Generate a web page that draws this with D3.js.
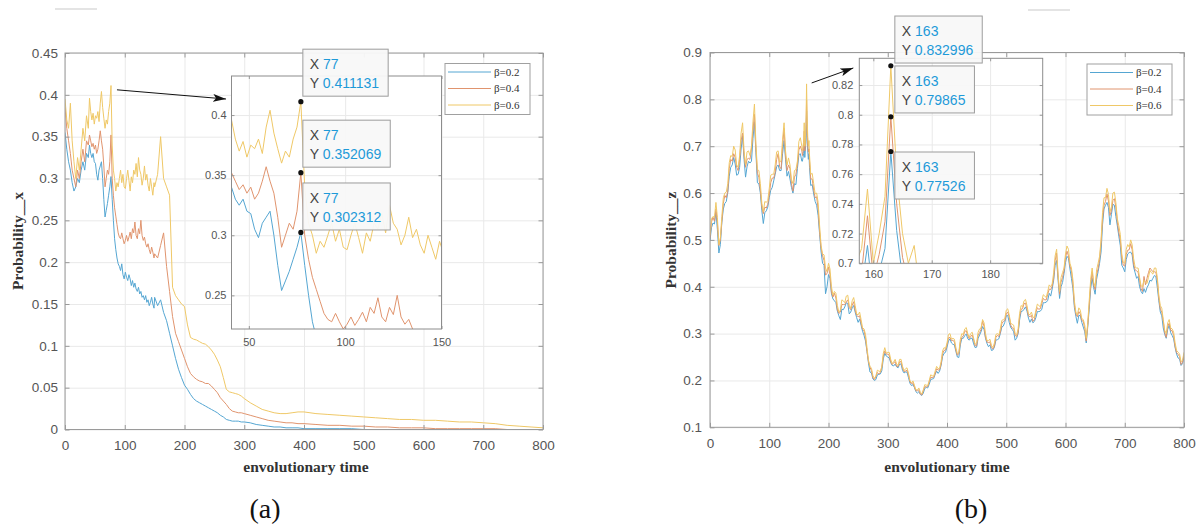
<!DOCTYPE html>
<html>
<head>
<meta charset="utf-8">
<title>Evolution of probabilities x and z</title>
<script src="https://cdn.jsdelivr.net/npm/d3@7/dist/d3.min.js"></script>
<style>
  html, body { margin: 0; padding: 0; background: #ffffff; }
  svg { display: block; }
</style>
</head>
<body>
<svg id="fig" width="1204" height="528"></svg>
<script>
// ---------------- data ----------------
// sampling instants (denser where the insets magnify the curves)
const timeX = [].concat(d3.range(0, 40, 3), d3.range(41, 150, 2), d3.range(150, 301, 5),
                        d3.range(310, 401, 10), d3.range(420, 801, 20));
const timeZ = [].concat(d3.range(0, 156, 5), d3.range(156, 171, 1), d3.range(175, 801, 5));
// in-between instants of the z record (fine fluctuations)
const timeZMid = [].concat(d3.range(2.5, 155, 5), d3.range(172.5, 800, 5));

const seriesNames = ["β=0.2", "β=0.4", "β=0.6"];

// probability x for each beta
const xBeta02 = [
  0.355, 0.335, 0.32, 0.31, 0.295, 0.285, 0.29, 0.30, 0.295, 0.31, 0.32, 0.31, 0.33, 0.325,
  0.34, 0.33, 0.325, 0.33, 0.32, 0.318, 0.305, 0.298, 0.31, 0.315, 0.32, 0.30, 0.275, 0.254, 0.262, 0.27, 0.28, 0.29, 0.302312,
  0.275, 0.25, 0.228, 0.215, 0.205, 0.198, 0.195, 0.19, 0.198, 0.185,
  0.18, 0.188, 0.182, 0.178, 0.185, 0.18, 0.172, 0.178, 0.17, 0.175,
  0.168, 0.165, 0.17, 0.162, 0.165, 0.158, 0.16, 0.155, 0.16, 0.152,
  0.155, 0.148, 0.152, 0.158, 0.15, 0.145,
  0.158, 0.148, 0.155, 0.14, 0.13, 0.115, 0.1, 0.085, 0.072, 0.062, 0.053,
  0.048, 0.042, 0.037, 0.034, 0.032, 0.03, 0.028, 0.026, 0.024, 0.022,
  0.02, 0.017, 0.015, 0.012, 0.011, 0.01, 0.01, 0.01, 0.009, 0.009,
  0.008, 0.006, 0.005, 0.004, 0.003, 0.003, 0.002, 0.002, 0.002, 0.001,
  0.001, 0.001, 0.001, 0.001, 0, 0, 0, 0, 0, 0, 0, 0, 0, 0, 0, 0, 0, 0, 0, 0
];
const xBeta04 = [
  0.385, 0.36, 0.345, 0.33, 0.31, 0.30, 0.29, 0.31, 0.30, 0.32, 0.335, 0.32, 0.345, 0.34,
  0.352, 0.345, 0.338, 0.342, 0.335, 0.34, 0.33, 0.335, 0.345, 0.357, 0.345, 0.335, 0.315, 0.29, 0.30, 0.31, 0.305, 0.32, 0.352069,
  0.30, 0.28, 0.265, 0.255, 0.245, 0.235, 0.23, 0.228, 0.235, 0.228,
  0.222, 0.226, 0.232, 0.225, 0.23, 0.236, 0.228, 0.24, 0.235, 0.248,
  0.232, 0.228, 0.24, 0.234, 0.25, 0.232, 0.226, 0.23, 0.222, 0.218,
  0.222, 0.215, 0.21, 0.218, 0.212, 0.205,
  0.21, 0.205, 0.22, 0.235, 0.195, 0.165, 0.135, 0.115, 0.105, 0.095, 0.085,
  0.075, 0.067, 0.063, 0.06, 0.058, 0.057, 0.055, 0.055, 0.052, 0.048,
  0.044, 0.038, 0.034, 0.03, 0.025, 0.022, 0.021, 0.02, 0.02, 0.019,
  0.017, 0.015, 0.013, 0.011, 0.01, 0.009, 0.008, 0.008, 0.007, 0.007,
  0.006, 0.005, 0.005, 0.004, 0.004, 0.003, 0.003, 0.002, 0.002, 0.002,
  0.001, 0.001, 0.001, 0.001, 0.001, 0.001, 0, 0, 0, 0
];
const xBeta06 = [
  0.395, 0.37, 0.36, 0.39, 0.345, 0.32, 0.30, 0.325, 0.31, 0.335, 0.36, 0.345, 0.375, 0.36,
  0.396, 0.38, 0.37, 0.378, 0.365, 0.375, 0.372, 0.38, 0.368, 0.39, 0.404, 0.385, 0.372, 0.36, 0.37, 0.365, 0.38, 0.39, 0.411131,
  0.34, 0.31, 0.30, 0.285, 0.295, 0.29, 0.30, 0.31, 0.295, 0.305,
  0.29, 0.288, 0.30, 0.31, 0.298, 0.285, 0.302, 0.295, 0.31, 0.305,
  0.318, 0.302, 0.325, 0.31, 0.305, 0.292, 0.30, 0.315, 0.298, 0.305,
  0.292, 0.285, 0.30, 0.29, 0.28, 0.295,
  0.29, 0.305, 0.35, 0.30, 0.29, 0.28, 0.17, 0.16, 0.155, 0.15, 0.147,
  0.125, 0.11, 0.108, 0.107, 0.105, 0.103, 0.102, 0.099, 0.095, 0.09,
  0.083, 0.075, 0.062, 0.048, 0.045, 0.044, 0.043, 0.042, 0.04, 0.037,
  0.032, 0.028, 0.024, 0.022, 0.02, 0.019, 0.019, 0.02, 0.021, 0.021,
  0.019, 0.018, 0.017, 0.016, 0.015, 0.014, 0.013, 0.012, 0.012, 0.011,
  0.011, 0.010, 0.009, 0.009, 0.008, 0.007, 0.005, 0.004, 0.003, 0.002
];

// probability z for each beta
const zBeta02 = [
  0.498, 0.536, 0.560, 0.472, 0.538, 0.578, 0.601, 0.655, 0.676, 0.638,
  0.655, 0.722, 0.634, 0.668, 0.668, 0.752, 0.622, 0.600, 0.535, 0.562,
  0.590, 0.612, 0.640, 0.660, 0.648, 0.712, 0.636, 0.630, 0.600, 0.618,
  0.682, 0.668,
  0.668, 0.676, 0.684, 0.712, 0.676, 0.694, 0.710, 0.77526, 0.722, 0.690, 0.672, 0.684, 0.654, 0.636, 0.616,
  0.598, 0.574, 0.512, 0.450, 0.385, 0.426, 0.385, 0.370, 0.348, 0.330,
  0.351, 0.366, 0.342, 0.355, 0.346, 0.324, 0.318, 0.296, 0.262, 0.218,
  0.203, 0.202, 0.213, 0.221, 0.258, 0.250, 0.238, 0.231, 0.229, 0.235,
  0.221, 0.218, 0.206, 0.189, 0.185, 0.173, 0.170, 0.173, 0.185, 0.192,
  0.203, 0.213, 0.215, 0.232, 0.258, 0.271, 0.289, 0.277, 0.262, 0.249,
  0.290, 0.296, 0.289, 0.290, 0.278, 0.271, 0.297, 0.315, 0.290, 0.272,
  0.264, 0.271, 0.287, 0.300, 0.316, 0.338, 0.324, 0.309, 0.286, 0.300,
  0.347, 0.352, 0.348, 0.324, 0.323, 0.334, 0.347, 0.352, 0.366, 0.371,
  0.380, 0.414, 0.456, 0.375, 0.409, 0.452, 0.461, 0.418, 0.356, 0.322,
  0.338, 0.314, 0.280, 0.352, 0.418, 0.384, 0.432, 0.474, 0.566, 0.580,
  0.532, 0.576, 0.550, 0.508, 0.446, 0.432, 0.470, 0.474, 0.442, 0.418,
  0.400, 0.385, 0.388, 0.404, 0.412, 0.424, 0.398, 0.346, 0.312, 0.290,
  0.318, 0.296, 0.270, 0.248, 0.232, 0.250
];
const zBeta04 = [
  0.503, 0.548, 0.566, 0.488, 0.540, 0.595, 0.604, 0.672, 0.684, 0.655,
  0.672, 0.728, 0.655, 0.674, 0.694, 0.768, 0.642, 0.606, 0.556, 0.568,
  0.596, 0.632, 0.644, 0.684, 0.652, 0.738, 0.648, 0.652, 0.604, 0.640,
  0.692, 0.690,
  0.680, 0.688, 0.694, 0.732, 0.690, 0.706, 0.728, 0.79865, 0.740, 0.704, 0.688, 0.694, 0.668, 0.650, 0.630,
  0.606, 0.592, 0.518, 0.466, 0.425, 0.442, 0.388, 0.386, 0.350, 0.346,
  0.362, 0.368, 0.356, 0.361, 0.350, 0.336, 0.322, 0.306, 0.262, 0.228,
  0.205, 0.208, 0.214, 0.228, 0.263, 0.256, 0.240, 0.238, 0.230, 0.240,
  0.226, 0.220, 0.212, 0.193, 0.186, 0.178, 0.171, 0.178, 0.186, 0.197,
  0.206, 0.214, 0.222, 0.234, 0.264, 0.276, 0.292, 0.286, 0.264, 0.257,
  0.292, 0.305, 0.296, 0.294, 0.286, 0.274, 0.302, 0.326, 0.292, 0.281,
  0.270, 0.273, 0.296, 0.302, 0.326, 0.342, 0.336, 0.312, 0.296, 0.302,
  0.352, 0.364, 0.352, 0.336, 0.326, 0.345, 0.352, 0.364, 0.372, 0.384,
  0.394, 0.418, 0.472, 0.384, 0.420, 0.462, 0.466, 0.434, 0.362, 0.336,
  0.342, 0.326, 0.284, 0.360, 0.432, 0.394, 0.438, 0.492, 0.574, 0.598,
  0.552, 0.584, 0.570, 0.516, 0.462, 0.444, 0.478, 0.492, 0.448, 0.434,
  0.414, 0.390, 0.404, 0.430, 0.436, 0.432, 0.414, 0.352, 0.326, 0.292,
  0.322, 0.306, 0.272, 0.256, 0.234, 0.254
];
const zBeta06 = [
  0.510, 0.550, 0.580, 0.490, 0.550, 0.600, 0.620, 0.680, 0.700, 0.660,
  0.680, 0.750, 0.660, 0.690, 0.700, 0.790, 0.650, 0.620, 0.560, 0.580,
  0.610, 0.640, 0.660, 0.690, 0.670, 0.750, 0.660, 0.660, 0.620, 0.650,
  0.710, 0.700,
  0.690, 0.700, 0.710, 0.750, 0.700, 0.720, 0.745, 0.832996, 0.760, 0.720, 0.700, 0.712, 0.680, 0.660, 0.640,
  0.620, 0.600, 0.530, 0.470, 0.440, 0.450, 0.400, 0.390, 0.360, 0.350,
  0.370, 0.380, 0.360, 0.370, 0.360, 0.340, 0.330, 0.310, 0.270, 0.230,
  0.210, 0.210, 0.220, 0.230, 0.270, 0.260, 0.245, 0.240, 0.235, 0.245,
  0.230, 0.225, 0.215, 0.195, 0.190, 0.180, 0.175, 0.180, 0.190, 0.200,
  0.210, 0.220, 0.225, 0.240, 0.270, 0.280, 0.300, 0.290, 0.270, 0.260,
  0.300, 0.310, 0.300, 0.300, 0.290, 0.280, 0.310, 0.330, 0.300, 0.285,
  0.275, 0.280, 0.300, 0.310, 0.330, 0.350, 0.340, 0.320, 0.300, 0.310,
  0.360, 0.370, 0.360, 0.340, 0.335, 0.350, 0.360, 0.370, 0.380, 0.390,
  0.400, 0.430, 0.480, 0.390, 0.430, 0.470, 0.480, 0.440, 0.370, 0.340,
  0.350, 0.330, 0.290, 0.370, 0.440, 0.400, 0.450, 0.500, 0.590, 0.610,
  0.560, 0.600, 0.580, 0.530, 0.470, 0.450, 0.490, 0.500, 0.460, 0.440,
  0.420, 0.400, 0.410, 0.420, 0.430, 0.440, 0.420, 0.360, 0.330, 0.300,
  0.330, 0.310, 0.280, 0.260, 0.240, 0.260
];

// z values at the in-between instants
const zBeta02Mid = [
  0.526, 0.534, 0.522, 0.490, 0.566, 0.582, 0.636, 0.660, 0.662, 0.640,
  0.694, 0.672, 0.656, 0.664, 0.716, 0.686, 0.620, 0.562, 0.558, 0.570,
  0.606, 0.626, 0.656, 0.648, 0.684, 0.672, 0.646, 0.612, 0.620, 0.652,
  0.684,
  0.618, 0.582, 0.552, 0.474, 0.446, 0.400, 0.418, 0.374, 0.366, 0.338,
  0.352, 0.357, 0.364, 0.346, 0.360, 0.334, 0.331, 0.305, 0.284, 0.237,
  0.216, 0.200, 0.212, 0.214, 0.246, 0.252, 0.248, 0.232, 0.235, 0.227,
  0.235, 0.216, 0.218, 0.194, 0.191, 0.176, 0.176, 0.168, 0.183, 0.184,
  0.202, 0.204, 0.220, 0.220, 0.251, 0.260, 0.284, 0.280, 0.276, 0.250,
  0.276, 0.290, 0.299, 0.286, 0.290, 0.270, 0.290, 0.304, 0.309, 0.279,
  0.276, 0.265, 0.286, 0.289, 0.314, 0.324, 0.339, 0.313, 0.304, 0.290,
  0.329, 0.348, 0.357, 0.333, 0.331, 0.326, 0.347, 0.348, 0.366, 0.367,
  0.386, 0.395, 0.446, 0.414, 0.400, 0.428, 0.465, 0.438, 0.396, 0.337,
  0.339, 0.324, 0.304, 0.314, 0.396, 0.398, 0.416, 0.450, 0.532, 0.574,
  0.569, 0.554, 0.574, 0.530, 0.488, 0.440, 0.458, 0.473, 0.468, 0.430,
  0.422, 0.390, 0.396, 0.398, 0.414, 0.418, 0.422, 0.370, 0.338, 0.298,
  0.309, 0.302, 0.289, 0.256, 0.246, 0.236
];
const zBeta04Mid = [
  0.538, 0.540, 0.536, 0.500, 0.578, 0.590, 0.652, 0.668, 0.676, 0.648,
  0.712, 0.680, 0.672, 0.672, 0.734, 0.694, 0.634, 0.570, 0.570, 0.576,
  0.622, 0.632, 0.672, 0.656, 0.700, 0.680, 0.660, 0.620, 0.634, 0.660,
  0.700,
  0.630, 0.590, 0.566, 0.482, 0.456, 0.428, 0.426, 0.378, 0.376, 0.343,
  0.362, 0.362, 0.372, 0.351, 0.368, 0.339, 0.338, 0.309, 0.291, 0.240,
  0.221, 0.202, 0.217, 0.217, 0.252, 0.256, 0.254, 0.234, 0.240, 0.230,
  0.240, 0.219, 0.222, 0.197, 0.195, 0.178, 0.180, 0.169, 0.187, 0.187,
  0.207, 0.207, 0.225, 0.223, 0.257, 0.265, 0.291, 0.285, 0.282, 0.254,
  0.282, 0.295, 0.306, 0.289, 0.297, 0.274, 0.297, 0.309, 0.316, 0.282,
  0.282, 0.267, 0.292, 0.294, 0.321, 0.328, 0.346, 0.318, 0.311, 0.294,
  0.336, 0.353, 0.365, 0.338, 0.339, 0.330, 0.355, 0.353, 0.375, 0.372,
  0.395, 0.401, 0.456, 0.420, 0.410, 0.435, 0.476, 0.444, 0.406, 0.342,
  0.347, 0.328, 0.311, 0.318, 0.406, 0.404, 0.426, 0.458, 0.545, 0.582,
  0.583, 0.562, 0.588, 0.538, 0.500, 0.446, 0.469, 0.479, 0.479, 0.436,
  0.431, 0.396, 0.422, 0.418, 0.440, 0.432, 0.431, 0.376, 0.346, 0.302,
  0.316, 0.307, 0.296, 0.259, 0.251, 0.239
];
const zBeta06Mid = [
  0.545, 0.548, 0.548, 0.505, 0.590, 0.602, 0.665, 0.678, 0.692, 0.655,
  0.728, 0.690, 0.688, 0.680, 0.752, 0.705, 0.648, 0.578, 0.582, 0.584,
  0.638, 0.640, 0.688, 0.665, 0.715, 0.690, 0.675, 0.628, 0.648, 0.668,
  0.718,
  0.642, 0.598, 0.580, 0.488, 0.468, 0.432, 0.438, 0.382, 0.386, 0.346,
  0.372, 0.366, 0.382, 0.354, 0.377, 0.342, 0.346, 0.312, 0.298, 0.243,
  0.226, 0.204, 0.222, 0.219, 0.258, 0.258, 0.260, 0.236, 0.245, 0.232,
  0.245, 0.221, 0.227, 0.199, 0.199, 0.180, 0.184, 0.171, 0.191, 0.189,
  0.212, 0.209, 0.230, 0.226, 0.263, 0.268, 0.298, 0.288, 0.288, 0.257,
  0.288, 0.298, 0.313, 0.292, 0.303, 0.277, 0.303, 0.312, 0.323, 0.285,
  0.288, 0.270, 0.298, 0.297, 0.328, 0.332, 0.353, 0.322, 0.318, 0.297,
  0.343, 0.357, 0.373, 0.342, 0.346, 0.334, 0.363, 0.357, 0.383, 0.377,
  0.404, 0.406, 0.466, 0.426, 0.420, 0.440, 0.487, 0.450, 0.415, 0.346,
  0.355, 0.332, 0.318, 0.322, 0.416, 0.410, 0.436, 0.465, 0.558, 0.590,
  0.597, 0.570, 0.602, 0.545, 0.512, 0.452, 0.480, 0.485, 0.490, 0.442,
  0.440, 0.402, 0.414, 0.407, 0.435, 0.427, 0.440, 0.382, 0.354, 0.307,
  0.323, 0.312, 0.303, 0.264, 0.257, 0.243
];

// tick values
const timeTicks = [0, 100, 200, 300, 400, 500, 600, 700, 800];
const probTicksX = [0, 0.05, 0.1, 0.15, 0.2, 0.25, 0.3, 0.35, 0.4, 0.45];
const probTicksZ = [0.1, 0.2, 0.3, 0.4, 0.5, 0.6, 0.7, 0.8, 0.9];
const insetTimeTicksX = [50, 100, 150];
const insetProbTicksX = [0.25, 0.3, 0.35, 0.4];
const insetTimeTicksZ = [160, 170, 180];
const insetProbTicksZ = [0.7, 0.72, 0.74, 0.76, 0.78, 0.8, 0.82];

// instants marked with data tips
const tipTimeX = 77;
const tipTimeZ = 163;

// ---------------- helpers ----------------
function pairs(time, vals) { return time.map((t, i) => [t, vals[i]]); }
function merged(t1, v1, t2, v2) {
  return pairs(t1, v1).concat(pairs(t2, v2)).sort((a, b) => a[0] - b[0]);
}
const xSeries = [pairs(timeX, xBeta02), pairs(timeX, xBeta04), pairs(timeX, xBeta06)];
const zSeries = [
  merged(timeZ, zBeta02, timeZMid, zBeta02Mid),
  merged(timeZ, zBeta04, timeZMid, zBeta04Mid),
  merged(timeZ, zBeta06, timeZMid, zBeta06Mid)
];

// ---------------- drawing ----------------
const svg = d3.select("#fig");
const SANS = "'Liberation Sans', Arial, Helvetica, sans-serif";
const SERIF = "'Liberation Serif', 'Times New Roman', Times, serif";
const lineColors = ["#55a6d2", "#e0946e", "#efc867"];
const frameColor = "#9a9a9a";
const gridColor = "#e9e9e9";
const tickText = "#555555";

const defs = svg.append("defs");
defs.append("marker")
  .attr("id", "arrowHead")
  .attr("viewBox", "0 0 13 8")
  .attr("refX", 13).attr("refY", 4)
  .attr("markerWidth", 13).attr("markerHeight", 8)
  .attr("markerUnits", "userSpaceOnUse")
  .attr("orient", "auto")
  .append("path")
  .attr("d", "M0,0 L13,4 L0,8 L3,4 Z")
  .attr("fill", "#111");

let clipCount = 0;

function makeAxes(spec) {
  const { left, right, top, bottom } = spec.box;
  const x = d3.scaleLinear().domain(spec.xDomain).range([left, right]);
  const y = d3.scaleLinear().domain(spec.yDomain).range([bottom, top]);
  const g = svg.append("g");
  g.append("rect")
    .attr("x", left).attr("y", top)
    .attr("width", right - left).attr("height", bottom - top)
    .attr("fill", "#ffffff");
  const grid = g.append("g");
  grid.append("g").attr("transform", `translate(0,${bottom})`)
    .call(d3.axisBottom(x).tickValues(spec.xTicks).tickSize(-(bottom - top)).tickFormat(""));
  grid.append("g").attr("transform", `translate(${left},0)`)
    .call(d3.axisLeft(y).tickValues(spec.yTicks).tickSize(-(right - left)).tickFormat(""));
  grid.selectAll(".domain").remove();
  grid.selectAll("line").attr("stroke", gridColor).attr("stroke-width", 1);

  const id = "clip" + (clipCount++);
  defs.append("clipPath").attr("id", id)
    .append("rect")
    .attr("x", left).attr("y", top)
    .attr("width", right - left).attr("height", bottom - top);
  return { g, x, y, spec, clipId: id };
}

function drawSeries(ax, seriesList) {
  const line = d3.line().x(d => ax.x(d[0])).y(d => ax.y(d[1]));
  const lg = ax.g.append("g").attr("clip-path", `url(#${ax.clipId})`);
  seriesList.forEach((pts, k) => {
    lg.append("path")
      .attr("d", line(pts))
      .attr("fill", "none")
      .attr("stroke", lineColors[k])
      .attr("stroke-width", 1)
      .attr("stroke-linejoin", "round");
  });
}

function styleAxis(sel, size) {
  sel.select(".domain").remove();
  sel.selectAll("line").attr("stroke", frameColor);
  sel.selectAll("text")
    .attr("fill", tickText)
    .attr("font-family", SANS)
    .attr("font-size", size);
  sel.attr("font-family", null).attr("font-size", null);
}

function drawFrame(ax) {
  const s = ax.spec;
  const { left, right, top, bottom } = s.box;
  const fmt = d => String(d);
  ax.g.append("g").attr("transform", `translate(0,${bottom})`)
    .call(d3.axisBottom(ax.x).tickValues(s.xTicks).tickSize(-s.tickLen).tickPadding(s.xPad).tickFormat(fmt))
    .call(sel => styleAxis(sel, s.fontSize));
  ax.g.append("g").attr("transform", `translate(0,${top})`)
    .call(d3.axisTop(ax.x).tickValues(s.xTicks).tickSize(-s.tickLen).tickFormat(""))
    .call(sel => styleAxis(sel, s.fontSize));
  ax.g.append("g").attr("transform", `translate(${left},0)`)
    .call(d3.axisLeft(ax.y).tickValues(s.yTicks).tickSize(-s.tickLen).tickPadding(s.yPad).tickFormat(fmt))
    .call(sel => styleAxis(sel, s.fontSize));
  ax.g.append("g").attr("transform", `translate(${right},0)`)
    .call(d3.axisRight(ax.y).tickValues(s.yTicks).tickSize(-s.tickLen).tickFormat(""))
    .call(sel => styleAxis(sel, s.fontSize));
  ax.g.append("rect")
    .attr("x", left).attr("y", top)
    .attr("width", right - left).attr("height", bottom - top)
    .attr("fill", "none").attr("stroke", s.frame || frameColor).attr("stroke-width", 1);
}

function drawLegend(ax, x0, y0) {
  const w = 85, h = 51, rowGap = 16.5;
  const lg = ax.g.append("g").attr("transform", `translate(${x0},${y0})`);
  lg.append("rect").attr("width", w).attr("height", h)
    .attr("fill", "#ffffff").attr("stroke", "#a0a0a0").attr("stroke-width", 1);
  seriesNames.forEach((name, k) => {
    const yy = 8.5 + k * rowGap;
    lg.append("line").attr("x1", 3).attr("x2", 46).attr("y1", yy).attr("y2", yy)
      .attr("stroke", lineColors[k]).attr("stroke-width", 1);
    lg.append("text").attr("x", 49).attr("y", yy).attr("dy", "0.35em")
      .attr("font-family", SERIF).attr("font-size", 11).attr("fill", "#333")
      .text(name);
  });
}

function drawArrow(ax, from, to) {
  svg.append("line")
    .attr("x1", ax.x(from[0])).attr("y1", ax.y(from[1]))
    .attr("x2", ax.x(to[0])).attr("y2", ax.y(to[1]))
    .attr("stroke", "#111").attr("stroke-width", 1)
    .attr("marker-end", "url(#arrowHead)");
}

const tipFormat = d3.format(".6~g");
function drawTip(ax, t, v, place) {
  const px = ax.x(t), py = ax.y(v);
  const g = svg.append("g");
  const h = 47;
  const bx = px + place.dx;
  const by = place.below ? py + place.dy : py + place.dy - h;
  const rect = g.append("rect").attr("x", bx).attr("y", by).attr("height", h)
    .attr("fill", "#f8f8f8").attr("fill-opacity", 0.95)
    .attr("stroke", "#9c9c9c").attr("stroke-width", 1);
  const rows = [["X ", String(t)], ["Y ", tipFormat(v)]];
  let maxW = 0;
  rows.forEach((r, i) => {
    const txt = g.append("text")
      .attr("x", bx + 7).attr("y", by + 15 + i * 19).attr("dy", "0.35em")
      .attr("font-family", SANS).attr("font-size", 14);
    txt.append("tspan").attr("fill", "#444").text(r[0]);
    txt.append("tspan").attr("fill", "#1e9ad8").text(r[1]);
    maxW = Math.max(maxW, txt.node().getComputedTextLength());
  });
  rect.attr("width", maxW + 16);
  g.append("circle").attr("cx", px).attr("cy", py).attr("r", 2.6).attr("fill", "#111");
}

function axisTitle(x, y, text, rotate) {
  svg.append("text")
    .attr("transform", `translate(${x},${y})` + (rotate ? " rotate(-90)" : ""))
    .attr("dy", "0.35em")
    .attr("text-anchor", "middle").attr("font-family", SERIF).attr("font-weight", "bold")
    .attr("font-size", 15.5).attr("fill", "#333").text(text);
}

function panelTag(x, y, text) {
  svg.append("text").attr("x", x).attr("y", y).attr("dy", "0.35em")
    .attr("text-anchor", "middle").attr("font-family", SERIF)
    .attr("font-size", 28).attr("fill", "#111").text(text);
}

// faint marks along the top edge of the figure
svg.append("line").attr("x1", 55).attr("x2", 97).attr("y1", 9).attr("y2", 9)
  .attr("stroke", "#e4e4e4").attr("stroke-width", 2);
svg.append("line").attr("x1", 1028).attr("x2", 1070).attr("y1", 10).attr("y2", 10)
  .attr("stroke", "#e4e4e4").attr("stroke-width", 2);

// ----- panel (a): probability x -----
const axA = makeAxes({
  box: { left: 65, right: 543, top: 53, bottom: 429.5 },
  xDomain: [0, 800], yDomain: [0, 0.45],
  xTicks: timeTicks, yTicks: probTicksX,
  tickLen: 4.5, fontSize: 13.5, xPad: 11, yPad: 7
});
drawSeries(axA, xSeries);
drawFrame(axA);
drawLegend(axA, 445, 63.5);

const inA = makeAxes({
  box: { left: 231.5, right: 441.5, top: 76, bottom: 329 },
  xDomain: [41, 150], yDomain: [0.222, 0.4325],
  xTicks: insetTimeTicksX, yTicks: insetProbTicksX,
  tickLen: 3, fontSize: 11, xPad: 9, yPad: 5, frame: "#8c8c8c"
});
drawSeries(inA, xSeries);
drawFrame(inA);
drawArrow(axA, [87, 0.406], [269.5, 0.395]);

const iA = timeX.indexOf(tipTimeX);
drawTip(inA, tipTimeX, xBeta06[iA], { dx: 2, dy: -5.5 });
drawTip(inA, tipTimeX, xBeta04[iA], { dx: 2, dy: -5.5 });
drawTip(inA, tipTimeX, xBeta02[iA], { dx: 2, dy: -2.5 });

axisTitle(306, 467, "envolutionary time", false);
axisTitle(18, 241, "Probability__x", true);
panelTag(265, 508, "(a)");

// ----- panel (b): probability z -----
const axB = makeAxes({
  box: { left: 710, right: 1184, top: 52.5, bottom: 427.3 },
  xDomain: [0, 800], yDomain: [0.1, 0.9],
  xTicks: timeTicks, yTicks: probTicksZ,
  tickLen: 4.5, fontSize: 13.5, xPad: 11, yPad: 8
});
drawSeries(axB, zSeries);
drawFrame(axB);
drawLegend(axB, 1087, 64);

const inB = makeAxes({
  box: { left: 859.3, right: 1042.7, top: 58.3, bottom: 263.3 },
  xDomain: [157.6, 189], yDomain: [0.7, 0.838],
  xTicks: insetTimeTicksZ, yTicks: insetProbTicksZ,
  tickLen: 3, fontSize: 11, xPad: 7, yPad: 6, frame: "#8c8c8c"
});
drawSeries(inB, zSeries);
drawFrame(inB);
drawArrow(axB, [171.6, 0.835], [241.9, 0.867]);

const iB = timeZ.indexOf(tipTimeZ);
drawTip(inB, tipTimeZ, zBeta06[iB], { dx: 4, dy: -2.7 });
drawTip(inB, tipTimeZ, zBeta04[iB], { dx: 4, dy: -3.8 });
drawTip(inB, tipTimeZ, zBeta02[iB], { dx: 4, dy: 0.5, below: true });

axisTitle(947, 467, "envolutionary time", false);
axisTitle(670.5, 240, "Probability__z", true);
panelTag(971, 508, "(b)");
</script>
</body>
</html>
